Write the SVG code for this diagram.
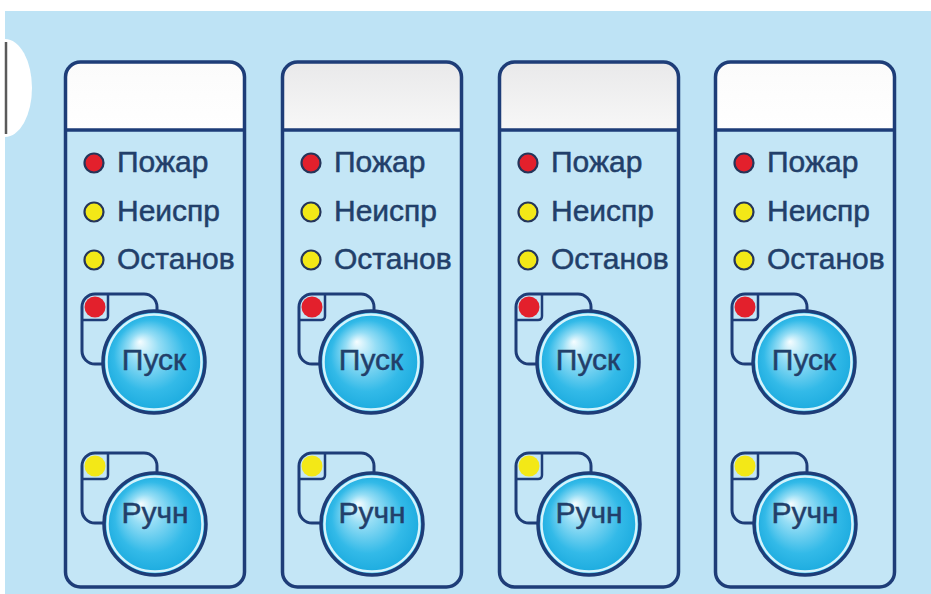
<svg xmlns="http://www.w3.org/2000/svg" width="931" height="594" viewBox="0 0 931 594">
<defs>
<linearGradient id="hdrW" x1="0" y1="0" x2="0" y2="1"><stop offset="0" stop-color="#fbfbfb"/><stop offset="1" stop-color="#ffffff"/></linearGradient>
<linearGradient id="hdrG" x1="0" y1="0" x2="0" y2="1"><stop offset="0" stop-color="#e9e9ea"/><stop offset="1" stop-color="#f7f7f7"/></linearGradient>
<radialGradient id="btn" cx="0.5" cy="0.5" r="0.5" fx="0.36" fy="0.3"><stop offset="0" stop-color="#f6fdff"/><stop offset="0.3" stop-color="#94ddf5"/><stop offset="0.7" stop-color="#33bae8"/><stop offset="1" stop-color="#1aaade"/></radialGradient>
<style>
.body{fill:#c4e6f6}
.outline{fill:none;stroke:#1e3d78;stroke-width:3.5}
.div{stroke:#1e3d78;stroke-width:3.5}
.led{stroke:#25355a;stroke-width:2.2}
.red{fill:#e3202c}
.yel{fill:#f3e817}
.lbl{font-family:"Liberation Sans",Arial,sans-serif;font-size:30px;fill:#223f6a;stroke:#223f6a;stroke-width:0.5}
.btxt{font-family:"Liberation Sans",Arial,sans-serif;font-size:30px;fill:#223f6a;stroke:#223f6a;stroke-width:0.5;text-anchor:middle}
.sq{fill:#c4e6f6;stroke:#1e3d78;stroke-width:3}
.comp{fill:none;stroke:#1e3d78;stroke-width:2.5}
.bc{fill:url(#btn);stroke:#1e3d78;stroke-width:3.5}
.ring{fill:none;stroke:#d4f3fc;stroke-width:2.5}
</style>
</defs>
<rect x="0" y="0" width="931" height="594" fill="#ffffff"/>
<rect x="5" y="11" width="926" height="583" fill="#bee3f5"/>
<path d="M5,39 A27,49 0 0 1 5,137 Z" fill="#ffffff"/>
<line x1="6" y1="42" x2="6" y2="134" stroke="#5a5a5a" stroke-width="2.5"/>

<g id="panel1">
<rect class="body" x="65.5" y="62" width="179" height="525" rx="15"/>
<path d="M65.5,130 V77 A15,15 0 0 1 80.5,62 H229.5 A15,15 0 0 1 244.5,77 V130 Z" fill="url(#hdrW)"/>
<rect class="outline" x="65.5" y="62" width="179" height="525" rx="15"/>
<line class="div" x1="65.5" y1="130" x2="244.5" y2="130"/>
<circle class="led red" cx="94" cy="163" r="9.5"/><text class="lbl" x="117" y="172">Пожар</text>
<circle class="led yel" cx="94" cy="212" r="9.5"/><text class="lbl" x="117" y="221">Неиспр</text>
<circle class="led yel" cx="94" cy="260" r="9.5"/><text class="lbl" x="117" y="269">Останов</text>
<rect class="sq" x="82" y="294" width="75" height="70" rx="13"/>
<circle class="red" cx="95" cy="307" r="10.5"/>
<path class="comp" d="M83,320 H104 Q108,320 108,316 V295"/>
<circle class="bc" cx="154" cy="362" r="51"/><circle class="ring" cx="154" cy="362" r="47.5"/>
<text class="btxt" x="154" y="370">Пуск</text>
<rect class="sq" x="82" y="453" width="75" height="70" rx="13"/>
<circle class="yel" cx="95" cy="466" r="10.5"/>
<path class="comp" d="M83,479 H104 Q108,479 108,475 V454"/>
<circle class="bc" cx="155" cy="524" r="51"/><circle class="ring" cx="155" cy="524" r="47.5"/>
<text class="btxt" x="155" y="523">Ручн</text>
</g>

<g id="panel2" transform="translate(217,0)">
<rect class="body" x="65.5" y="62" width="179" height="525" rx="15"/>
<path d="M65.5,130 V77 A15,15 0 0 1 80.5,62 H229.5 A15,15 0 0 1 244.5,77 V130 Z" fill="url(#hdrG)"/>
<rect class="outline" x="65.5" y="62" width="179" height="525" rx="15"/>
<line class="div" x1="65.5" y1="130" x2="244.5" y2="130"/>
<circle class="led red" cx="94" cy="163" r="9.5"/><text class="lbl" x="117" y="172">Пожар</text>
<circle class="led yel" cx="94" cy="212" r="9.5"/><text class="lbl" x="117" y="221">Неиспр</text>
<circle class="led yel" cx="94" cy="260" r="9.5"/><text class="lbl" x="117" y="269">Останов</text>
<rect class="sq" x="82" y="294" width="75" height="70" rx="13"/>
<circle class="red" cx="95" cy="307" r="10.5"/>
<path class="comp" d="M83,320 H104 Q108,320 108,316 V295"/>
<circle class="bc" cx="154" cy="362" r="51"/><circle class="ring" cx="154" cy="362" r="47.5"/>
<text class="btxt" x="154" y="370">Пуск</text>
<rect class="sq" x="82" y="453" width="75" height="70" rx="13"/>
<circle class="yel" cx="95" cy="466" r="10.5"/>
<path class="comp" d="M83,479 H104 Q108,479 108,475 V454"/>
<circle class="bc" cx="155" cy="524" r="51"/><circle class="ring" cx="155" cy="524" r="47.5"/>
<text class="btxt" x="155" y="523">Ручн</text>
</g>

<g id="panel3" transform="translate(434,0)">
<rect class="body" x="65.5" y="62" width="179" height="525" rx="15"/>
<path d="M65.5,130 V77 A15,15 0 0 1 80.5,62 H229.5 A15,15 0 0 1 244.5,77 V130 Z" fill="url(#hdrG)"/>
<rect class="outline" x="65.5" y="62" width="179" height="525" rx="15"/>
<line class="div" x1="65.5" y1="130" x2="244.5" y2="130"/>
<circle class="led red" cx="94" cy="163" r="9.5"/><text class="lbl" x="117" y="172">Пожар</text>
<circle class="led yel" cx="94" cy="212" r="9.5"/><text class="lbl" x="117" y="221">Неиспр</text>
<circle class="led yel" cx="94" cy="260" r="9.5"/><text class="lbl" x="117" y="269">Останов</text>
<rect class="sq" x="82" y="294" width="75" height="70" rx="13"/>
<circle class="red" cx="95" cy="307" r="10.5"/>
<path class="comp" d="M83,320 H104 Q108,320 108,316 V295"/>
<circle class="bc" cx="154" cy="362" r="51"/><circle class="ring" cx="154" cy="362" r="47.5"/>
<text class="btxt" x="154" y="370">Пуск</text>
<rect class="sq" x="82" y="453" width="75" height="70" rx="13"/>
<circle class="yel" cx="95" cy="466" r="10.5"/>
<path class="comp" d="M83,479 H104 Q108,479 108,475 V454"/>
<circle class="bc" cx="155" cy="524" r="51"/><circle class="ring" cx="155" cy="524" r="47.5"/>
<text class="btxt" x="155" y="523">Ручн</text>
</g>

<g id="panel4" transform="translate(650,0)">
<rect class="body" x="65.5" y="62" width="179" height="525" rx="15"/>
<path d="M65.5,130 V77 A15,15 0 0 1 80.5,62 H229.5 A15,15 0 0 1 244.5,77 V130 Z" fill="url(#hdrW)"/>
<rect class="outline" x="65.5" y="62" width="179" height="525" rx="15"/>
<line class="div" x1="65.5" y1="130" x2="244.5" y2="130"/>
<circle class="led red" cx="94" cy="163" r="9.5"/><text class="lbl" x="117" y="172">Пожар</text>
<circle class="led yel" cx="94" cy="212" r="9.5"/><text class="lbl" x="117" y="221">Неиспр</text>
<circle class="led yel" cx="94" cy="260" r="9.5"/><text class="lbl" x="117" y="269">Останов</text>
<rect class="sq" x="82" y="294" width="75" height="70" rx="13"/>
<circle class="red" cx="95" cy="307" r="10.5"/>
<path class="comp" d="M83,320 H104 Q108,320 108,316 V295"/>
<circle class="bc" cx="154" cy="362" r="51"/><circle class="ring" cx="154" cy="362" r="47.5"/>
<text class="btxt" x="154" y="370">Пуск</text>
<rect class="sq" x="82" y="453" width="75" height="70" rx="13"/>
<circle class="yel" cx="95" cy="466" r="10.5"/>
<path class="comp" d="M83,479 H104 Q108,479 108,475 V454"/>
<circle class="bc" cx="155" cy="524" r="51"/><circle class="ring" cx="155" cy="524" r="47.5"/>
<text class="btxt" x="155" y="523">Ручн</text>
</g>
<g id="connectors"/>
</svg>
